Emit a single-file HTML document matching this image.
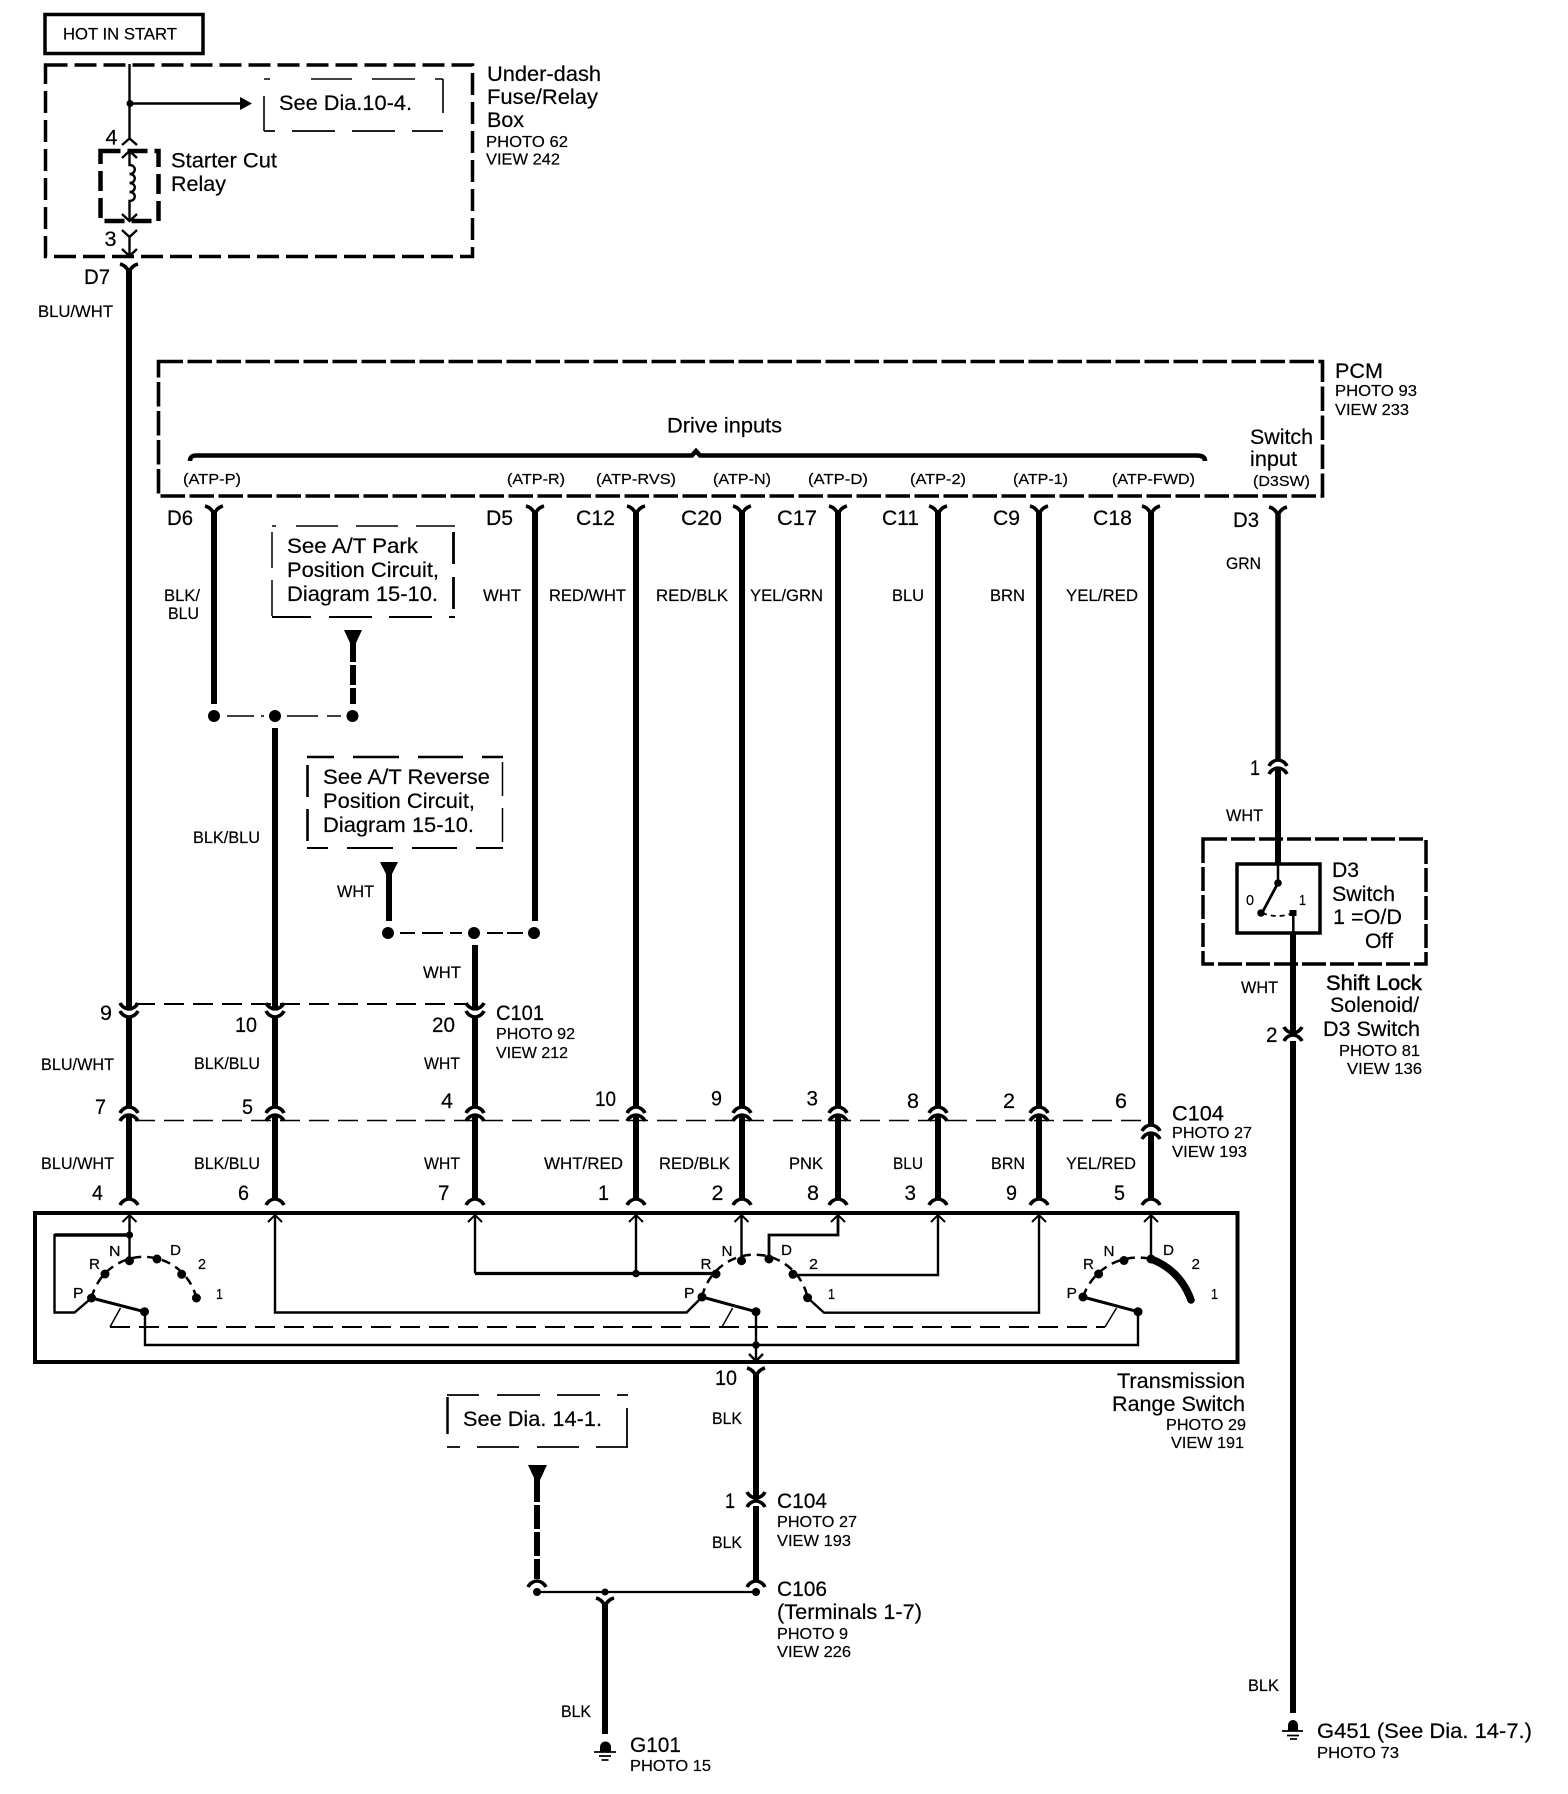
<!DOCTYPE html>
<html><head><meta charset="utf-8">
<style>
html,body{margin:0;padding:0;background:#fff;}
svg{display:block;}
text{font-family:"Liberation Sans",sans-serif;fill:#000;stroke:#000;stroke-width:.2;}
.b{font-size:21.5px;}
.c{font-size:17px;}
.p{font-size:16px;}
.s{font-size:15px;}
.w{stroke:#000;stroke-width:6;fill:none;}
.t{stroke:#000;stroke-width:2.4;fill:none;}
.k{stroke:#000;stroke-width:3.5;fill:none;}
</style></head><body>
<svg xmlns="http://www.w3.org/2000/svg" width="1568" height="1794" viewBox="0 0 1568 1794">
<defs>
<path id="yu" d="M-9,0 Q-3,1.5 0,8 Q3,1.5 9,0" fill="none" stroke="#000" stroke-width="3.6"/>
<path id="pu" d="M-9,0 C-7,4 -3,6 0,6 C3,6 7,4 9,0" fill="none" stroke="#000" stroke-width="3.6"/>
<path id="pd" d="M-9,0 C-7,-4 -3,-6 0,-6 C3,-6 7,-4 9,0" fill="none" stroke="#000" stroke-width="3.6"/>
<path id="au" d="M-7,8 L0,1 L7,8" fill="none" stroke="#000" stroke-width="2"/>
</defs>
<rect width="1568" height="1794" fill="#fff"/>

<!-- top boxes -->
<rect x="45" y="14.500" width="158" height="39" fill="none" stroke="#000" stroke-width="3.500"/>
<text x="63" y="39.500" class="c" textLength="114" lengthAdjust="spacingAndGlyphs">HOT IN START</text>
<rect x="45.500" y="65" width="427" height="191.500" fill="none" stroke="#000" stroke-width="3.500" stroke-dasharray="22,7"/>
<path class="t" d="M129.500,64 V140"/>
<circle cx="130" cy="103.500" r="3.500"/>
<path class="t" d="M130,103.500 H242"/>
<polygon points="240,97 252,103.500 240,110"/>
<path d="M264,79 H443" fill="none" stroke="#000" stroke-width="1.600" stroke-dasharray="6,41,41,20,43,20,8,0"/>
<path d="M264,131 H443" fill="none" stroke="#000" stroke-width="1.800" stroke-dasharray="11,17,43,17,43,17,31,0"/>
<path d="M264,96 V131 M443,79 V113" fill="none" stroke="#000" stroke-width="1.600"/>
<text x="279" y="110" class="b" textLength="133" lengthAdjust="spacingAndGlyphs">See Dia.10-4.</text>
<text x="105.500" y="144.500" class="b" textLength="12" lengthAdjust="spacingAndGlyphs">4</text>
<path class="t" d="M122,145 L129.500,138.500 L137,145"/>
<rect x="100.500" y="151" width="58" height="70" fill="none" stroke="#000" stroke-width="4.500" stroke-dasharray="20,7"/>
<path class="t" d="M122,158 L129.500,151 L137,158 M129.500,151 V165 c7,0 7,9 0,9 c7,0 7,9 0,9 c7,0 7,9 0,9 c7,0 7,9 0,9 V221 M122,214 L129.500,221 L137,214"/>
<text x="171" y="167.500" class="b" textLength="106" lengthAdjust="spacingAndGlyphs">Starter Cut</text>
<text x="171" y="191" class="b" textLength="55" lengthAdjust="spacingAndGlyphs">Relay</text>
<text x="104.500" y="246" class="b" textLength="12" lengthAdjust="spacingAndGlyphs">3</text>
<path class="t" d="M122,230 L129.500,237 L137,230 M129.500,237 V256 M122,249 L129.500,256 L137,249"/>
<text x="487" y="81" class="b" textLength="114" lengthAdjust="spacingAndGlyphs">Under-dash</text>
<text x="487" y="104" class="b" textLength="111" lengthAdjust="spacingAndGlyphs">Fuse/Relay</text>
<text x="487" y="127" class="b" textLength="37" lengthAdjust="spacingAndGlyphs">Box</text>
<text x="486" y="147" class="p" textLength="82" lengthAdjust="spacingAndGlyphs">PHOTO 62</text>
<text x="486" y="164.500" class="p" textLength="74" lengthAdjust="spacingAndGlyphs">VIEW 242</text>

<text x="84" y="284" class="b" textLength="26" lengthAdjust="spacingAndGlyphs">D7</text>
<text x="38" y="317" class="c" textLength="75" lengthAdjust="spacingAndGlyphs">BLU/WHT</text>

<!-- PCM -->
<rect x="158.500" y="361.500" width="1164" height="134.500" fill="none" stroke="#000" stroke-width="3.600" stroke-dasharray="24.500,4.500"/>
<text x="1335" y="378" class="b" textLength="48" lengthAdjust="spacingAndGlyphs">PCM</text>
<text x="1335" y="396" class="p" textLength="82" lengthAdjust="spacingAndGlyphs">PHOTO 93</text>
<text x="1335" y="415" class="p" textLength="74" lengthAdjust="spacingAndGlyphs">VIEW 233</text>
<text x="667" y="432.500" class="b" textLength="115" lengthAdjust="spacingAndGlyphs">Drive inputs</text>
<path d="M190,461 Q190,455.500 196,455.500 L692,455.500 L696,451 L700,455.500 L1197,455.500 Q1205,455.500 1205,461" fill="none" stroke="#000" stroke-width="4.500"/>
<g class="s">
<text x="183" y="484" textLength="58" lengthAdjust="spacingAndGlyphs">(ATP-P)</text>
<text x="507" y="484" textLength="58" lengthAdjust="spacingAndGlyphs">(ATP-R)</text>
<text x="596" y="484" textLength="80" lengthAdjust="spacingAndGlyphs">(ATP-RVS)</text>
<text x="713" y="484" textLength="58" lengthAdjust="spacingAndGlyphs">(ATP-N)</text>
<text x="808" y="484" textLength="60" lengthAdjust="spacingAndGlyphs">(ATP-D)</text>
<text x="910" y="484" textLength="56" lengthAdjust="spacingAndGlyphs">(ATP-2)</text>
<text x="1013" y="484" textLength="55" lengthAdjust="spacingAndGlyphs">(ATP-1)</text>
<text x="1112" y="484" textLength="83" lengthAdjust="spacingAndGlyphs">(ATP-FWD)</text>
<text x="1253" y="486" textLength="57" lengthAdjust="spacingAndGlyphs">(D3SW)</text>
</g>
<text x="1250" y="444" class="b" textLength="63" lengthAdjust="spacingAndGlyphs">Switch</text>
<text x="1250" y="466" class="b" textLength="47" lengthAdjust="spacingAndGlyphs">input</text>

<!-- connector labels row -->
<g class="b">
<text x="167" y="525" textLength="26" lengthAdjust="spacingAndGlyphs">D6</text>
<text x="486" y="525" textLength="27" lengthAdjust="spacingAndGlyphs">D5</text>
<text x="576" y="525" textLength="39" lengthAdjust="spacingAndGlyphs">C12</text>
<text x="681" y="525" textLength="41" lengthAdjust="spacingAndGlyphs">C20</text>
<text x="777" y="525" textLength="40" lengthAdjust="spacingAndGlyphs">C17</text>
<text x="882" y="525" textLength="37" lengthAdjust="spacingAndGlyphs">C11</text>
<text x="993" y="525" textLength="27" lengthAdjust="spacingAndGlyphs">C9</text>
<text x="1093" y="525" textLength="39" lengthAdjust="spacingAndGlyphs">C18</text>
<text x="1233" y="527" textLength="26" lengthAdjust="spacingAndGlyphs">D3</text>
</g>
<g class="c">
<text x="164" y="601" textLength="36" lengthAdjust="spacingAndGlyphs">BLK/</text>
<text x="168" y="619" textLength="31" lengthAdjust="spacingAndGlyphs">BLU</text>
<text x="483" y="601" textLength="38" lengthAdjust="spacingAndGlyphs">WHT</text>
<text x="549" y="601" textLength="77" lengthAdjust="spacingAndGlyphs">RED/WHT</text>
<text x="656" y="601" textLength="72" lengthAdjust="spacingAndGlyphs">RED/BLK</text>
<text x="750" y="601" textLength="73" lengthAdjust="spacingAndGlyphs">YEL/GRN</text>
<text x="892" y="601" textLength="32" lengthAdjust="spacingAndGlyphs">BLU</text>
<text x="990" y="601" textLength="35" lengthAdjust="spacingAndGlyphs">BRN</text>
<text x="1066" y="601" textLength="72" lengthAdjust="spacingAndGlyphs">YEL/RED</text>
<text x="1226" y="569" textLength="35" lengthAdjust="spacingAndGlyphs">GRN</text>
<text x="193" y="843" textLength="67" lengthAdjust="spacingAndGlyphs">BLK/BLU</text>
<text x="337" y="897" textLength="37" lengthAdjust="spacingAndGlyphs">WHT</text>
<text x="423" y="978" textLength="38" lengthAdjust="spacingAndGlyphs">WHT</text>
<text x="1226" y="821" textLength="37" lengthAdjust="spacingAndGlyphs">WHT</text>
<text x="1241" y="993" textLength="37" lengthAdjust="spacingAndGlyphs">WHT</text>
<text x="41" y="1070" textLength="73" lengthAdjust="spacingAndGlyphs">BLU/WHT</text>
<text x="194" y="1069" textLength="66" lengthAdjust="spacingAndGlyphs">BLK/BLU</text>
<text x="424" y="1069" textLength="36" lengthAdjust="spacingAndGlyphs">WHT</text>
<text x="41" y="1169" textLength="73" lengthAdjust="spacingAndGlyphs">BLU/WHT</text>
<text x="194" y="1169" textLength="66" lengthAdjust="spacingAndGlyphs">BLK/BLU</text>
<text x="424" y="1169" textLength="36" lengthAdjust="spacingAndGlyphs">WHT</text>
<text x="544" y="1169" textLength="79" lengthAdjust="spacingAndGlyphs">WHT/RED</text>
<text x="659" y="1169" textLength="71" lengthAdjust="spacingAndGlyphs">RED/BLK</text>
<text x="789" y="1169" textLength="34" lengthAdjust="spacingAndGlyphs">PNK</text>
<text x="893" y="1169" textLength="30" lengthAdjust="spacingAndGlyphs">BLU</text>
<text x="991" y="1169" textLength="34" lengthAdjust="spacingAndGlyphs">BRN</text>
<text x="1066" y="1169" textLength="70" lengthAdjust="spacingAndGlyphs">YEL/RED</text>
<text x="712" y="1424" textLength="30" lengthAdjust="spacingAndGlyphs">BLK</text>
<text x="712" y="1548" textLength="30" lengthAdjust="spacingAndGlyphs">BLK</text>
<text x="561" y="1717" textLength="30" lengthAdjust="spacingAndGlyphs">BLK</text>
<text x="1248" y="1691" textLength="31" lengthAdjust="spacingAndGlyphs">BLK</text>
</g>

<!-- thick wires -->
<path class="w" d="M129,270 V1008 M129,1017 V1107 M129,1115 V1200
M275,728 V1008 M275,1017 V1107 M275,1115 V1200
M475,945 V1008 M475,1017 V1107 M475,1115 V1200
M214,512 V704 M535,512 V921
M636,512 V1107 M636,1115 V1200
M742,512 V1107 M742,1115 V1200
M838,512 V1107 M838,1115 V1200
M938,512 V1107 M938,1115 V1200
M1039,512 V1107 M1039,1115 V1200
M1151,512 V1125 M1151,1133 V1200
M1278,768 V863 M1293,933 V1033 M1293,1041 V1713
M389,870 V921 M756,1375 V1498 M756,1506 V1580 M605,1605 V1734"/>
<path d="M1278,512 V760" fill="none" stroke="#000" stroke-width="5.500"/>
<path d="M353,642 V704" fill="none" stroke="#000" stroke-width="6" stroke-dasharray="20,3"/>
<path d="M537,1478 V1579" fill="none" stroke="#000" stroke-width="6" stroke-dasharray="24,3"/>
<polygon points="344,630 362,630 355.500,644 350.500,644"/>
<polygon points="380,862 398,862 391.500,875 386.500,875"/>
<polygon points="528,1465 547,1465 540,1480 535,1480"/>

<!-- top connector Ys -->
<use href="#yu" x="129" y="264"/><use href="#yu" x="214" y="506"/><use href="#yu" x="535" y="506"/><use href="#yu" x="636" y="506"/><use href="#yu" x="742" y="506"/><use href="#yu" x="838" y="506"/><use href="#yu" x="938" y="506"/><use href="#yu" x="1039" y="506"/><use href="#yu" x="1151" y="506"/><use href="#yu" x="1278" y="507"/>
<!-- C101 -->
<use href="#pu" x="129" y="1003"/><use href="#pu" x="129" y="1011"/><use href="#pu" x="275" y="1003"/><use href="#pu" x="275" y="1011"/><use href="#pu" x="475" y="1003"/><use href="#pu" x="475" y="1011"/>
<path d="M135,1004 H468" fill="none" stroke="#000" stroke-width="2" stroke-dasharray="20,9"/>
<!-- C104 -->
<use href="#pd" x="129" y="1113"/><use href="#pd" x="129" y="1121"/><use href="#pd" x="275" y="1113"/><use href="#pd" x="275" y="1121"/><use href="#pd" x="475" y="1113"/><use href="#pd" x="475" y="1121"/><use href="#pd" x="636" y="1113"/><use href="#pd" x="636" y="1121"/><use href="#pd" x="742" y="1113"/><use href="#pd" x="742" y="1121"/><use href="#pd" x="838" y="1113"/><use href="#pd" x="838" y="1121"/><use href="#pd" x="938" y="1113"/><use href="#pd" x="938" y="1121"/><use href="#pd" x="1039" y="1113"/><use href="#pd" x="1039" y="1121"/><use href="#pd" x="1151" y="1131"/><use href="#pd" x="1151" y="1139"/>
<path d="M135,1120.500 H1146" fill="none" stroke="#000" stroke-width="1.500" stroke-dasharray="20,9"/>
<!-- bottom row -->
<use href="#pd" x="129" y="1205"/><use href="#pd" x="275" y="1205"/><use href="#pd" x="475" y="1205"/><use href="#pd" x="636" y="1205"/><use href="#pd" x="742" y="1205"/><use href="#pd" x="838" y="1205"/><use href="#pd" x="938" y="1205"/><use href="#pd" x="1039" y="1205"/><use href="#pd" x="1151" y="1205"/>
<!-- other connectors -->
<use href="#pd" x="1278" y="766"/><use href="#pd" x="1278" y="774"/>
<use href="#pu" x="1293" y="1027"/><use href="#pd" x="1293" y="1041"/>
<use href="#yu" x="756" y="1368"/>
<use href="#pu" x="756" y="1492"/><use href="#pd" x="756" y="1507"/>
<use href="#pd" x="537" y="1587"/><use href="#pd" x="756" y="1587"/><use href="#yu" x="605" y="1598"/>

<!-- numbers -->
<g class="b">
<text x="100" y="1020" textLength="12" lengthAdjust="spacingAndGlyphs">9</text>
<text x="235" y="1032" textLength="22" lengthAdjust="spacingAndGlyphs">10</text>
<text x="432" y="1032" textLength="23" lengthAdjust="spacingAndGlyphs">20</text>
<text x="496" y="1020" textLength="48" lengthAdjust="spacingAndGlyphs">C101</text>
<text x="95" y="1114" textLength="11" lengthAdjust="spacingAndGlyphs">7</text>
<text x="242" y="1114" textLength="11" lengthAdjust="spacingAndGlyphs">5</text>
<text x="441" y="1108" textLength="12" lengthAdjust="spacingAndGlyphs">4</text>
<text x="595" y="1106" textLength="21" lengthAdjust="spacingAndGlyphs">10</text>
<text x="711" y="1105.500" textLength="11" lengthAdjust="spacingAndGlyphs">9</text>
<text x="806.500" y="1105.500" textLength="11.500" lengthAdjust="spacingAndGlyphs">3</text>
<text x="907" y="1108" textLength="12" lengthAdjust="spacingAndGlyphs">8</text>
<text x="1003" y="1108" textLength="12" lengthAdjust="spacingAndGlyphs">2</text>
<text x="1115" y="1108" textLength="12" lengthAdjust="spacingAndGlyphs">6</text>
<text x="1172" y="1120.500" textLength="52" lengthAdjust="spacingAndGlyphs">C104</text>
<text x="92" y="1200" textLength="11" lengthAdjust="spacingAndGlyphs">4</text>
<text x="238" y="1200" textLength="11" lengthAdjust="spacingAndGlyphs">6</text>
<text x="438" y="1200" textLength="11.500" lengthAdjust="spacingAndGlyphs">7</text>
<text x="598" y="1200" textLength="11" lengthAdjust="spacingAndGlyphs">1</text>
<text x="711.500" y="1200" textLength="12" lengthAdjust="spacingAndGlyphs">2</text>
<text x="807" y="1200" textLength="12" lengthAdjust="spacingAndGlyphs">8</text>
<text x="904.500" y="1200" textLength="11.500" lengthAdjust="spacingAndGlyphs">3</text>
<text x="1006" y="1200" textLength="11" lengthAdjust="spacingAndGlyphs">9</text>
<text x="1114" y="1200" textLength="11" lengthAdjust="spacingAndGlyphs">5</text>
<text x="715" y="1385" textLength="22" lengthAdjust="spacingAndGlyphs">10</text>
<text x="725" y="1508" textLength="10" lengthAdjust="spacingAndGlyphs">1</text>
<text x="1250" y="775" textLength="10" lengthAdjust="spacingAndGlyphs">1</text>
<text x="1266" y="1042" textLength="11.500" lengthAdjust="spacingAndGlyphs">2</text>
</g>
<g class="p">
<text x="496" y="1039" textLength="79" lengthAdjust="spacingAndGlyphs">PHOTO 92</text>
<text x="496" y="1058" textLength="72" lengthAdjust="spacingAndGlyphs">VIEW 212</text>
<text x="1172" y="1138" textLength="80" lengthAdjust="spacingAndGlyphs">PHOTO 27</text>
<text x="1172" y="1157" textLength="75" lengthAdjust="spacingAndGlyphs">VIEW 193</text>
</g>

<!-- See A/T Park -->
<path d="M272,526 H455" fill="none" stroke="#000" stroke-width="1.500" stroke-dasharray="4,20,42,18,42,18,40,0"/>
<path d="M272,532 V617" fill="none" stroke="#000" stroke-width="1.500" stroke-dasharray="36,12"/>
<path d="M453.500,532 V610" fill="none" stroke="#000" stroke-width="2.800" stroke-dasharray="32,13"/>
<path d="M272,617 H455" fill="none" stroke="#000" stroke-width="2" stroke-dasharray="39,18,43,17,43,17,6,0"/>
<g class="b">
<text x="287" y="553" textLength="131" lengthAdjust="spacingAndGlyphs">See A/T Park</text>
<text x="287" y="577" textLength="152" lengthAdjust="spacingAndGlyphs">Position Circuit,</text>
<text x="287" y="601" textLength="151" lengthAdjust="spacingAndGlyphs">Diagram 15-10.</text>
</g>
<!-- dots 1 -->
<circle cx="214" cy="716" r="6"/><circle cx="275" cy="716" r="6"/><circle cx="352.500" cy="716" r="6"/>
<path d="M227,716 H254 M261,716 H264 M287,716 H318 M327,716 H341" fill="none" stroke="#000" stroke-width="1.600"/>

<!-- See A/T Reverse -->
<path d="M307,757 H503" fill="none" stroke="#000" stroke-width="2.600" stroke-dasharray="27,19,46,19,45,19,21,0"/>
<path d="M307.500,765 V848" fill="none" stroke="#000" stroke-width="2.600" stroke-dasharray="32,12"/>
<path d="M502.500,762 V848" fill="none" stroke="#000" stroke-width="1.500" stroke-dasharray="34,12"/>
<path d="M307,848 H503" fill="none" stroke="#000" stroke-width="2" stroke-dasharray="21,19,46,19,45,19,27,0"/>
<g class="b">
<text x="323" y="784" textLength="167" lengthAdjust="spacingAndGlyphs">See A/T Reverse</text>
<text x="323" y="808" textLength="152" lengthAdjust="spacingAndGlyphs">Position Circuit,</text>
<text x="323" y="832" textLength="151" lengthAdjust="spacingAndGlyphs">Diagram 15-10.</text>
</g>
<circle cx="388" cy="933" r="6"/><circle cx="474" cy="933" r="6"/><circle cx="534" cy="933" r="6"/>
<path d="M400,933 H415 M422,933 H443 M450,933 H462 M487,933 H503 M507,933 H523" fill="none" stroke="#000" stroke-width="2"/>

<!-- D3 switch -->
<rect x="1203" y="839" width="223" height="125" fill="none" stroke="#000" stroke-width="3.500" stroke-dasharray="24,4"/>
<rect x="1237" y="864" width="83" height="69" fill="#fff" stroke="#000" stroke-width="3.500"/>
<path d="M1278,863 V883" fill="none" stroke="#000" stroke-width="2.500"/>
<circle cx="1278" cy="883" r="3.800"/><circle cx="1261" cy="913" r="3.800"/>
<path d="M1278,883 L1262,913" fill="none" stroke="#000" stroke-width="2.800"/>
<path d="M1262,913 Q1278,919 1293,913" fill="none" stroke="#000" stroke-width="1.800" stroke-dasharray="5,4"/>
<rect x="1289.500" y="910" width="7" height="6"/>
<path d="M1293.300,913 V934" fill="none" stroke="#000" stroke-width="2.500"/>
<text x="1246" y="905" class="s" textLength="8" lengthAdjust="spacingAndGlyphs">0</text>
<text x="1299" y="905" class="s" textLength="7" lengthAdjust="spacingAndGlyphs">1</text>
<g class="b">
<text x="1332" y="877" textLength="27" lengthAdjust="spacingAndGlyphs">D3</text>
<text x="1332" y="901" textLength="63" lengthAdjust="spacingAndGlyphs">Switch</text>
<text x="1333" y="924" textLength="69" lengthAdjust="spacingAndGlyphs">1 =O/D</text>
<text x="1365" y="948" textLength="28" lengthAdjust="spacingAndGlyphs">Off</text>
<text x="1326" y="990" textLength="96" lengthAdjust="spacingAndGlyphs" style="stroke-width:.5">Shift Lock</text>
<text x="1330" y="1012" textLength="89" lengthAdjust="spacingAndGlyphs">Solenoid/</text>
<text x="1323" y="1036" textLength="97" lengthAdjust="spacingAndGlyphs">D3 Switch</text>
</g>
<text x="1339" y="1056" class="p" textLength="81" lengthAdjust="spacingAndGlyphs">PHOTO 81</text>
<text x="1347" y="1074" class="p" textLength="75" lengthAdjust="spacingAndGlyphs">VIEW 136</text>

<!-- Transmission range switch -->
<rect x="35" y="1213" width="1202.500" height="149" fill="none" stroke="#000" stroke-width="4"/>
<!-- arrows -->
<use href="#au" x="129.500" y="1214"/><use href="#au" x="275" y="1214"/><use href="#au" x="475" y="1214"/><use href="#au" x="636" y="1214"/><use href="#au" x="741.500" y="1214"/><use href="#au" x="838" y="1214"/><use href="#au" x="938" y="1214"/><use href="#au" x="1039" y="1214"/><use href="#au" x="1151" y="1214"/>
<path class="t" d="M749,1354 L756,1361 L763,1354"/>
<!-- switch 1 -->
<path class="t" d="M129.500,1214 V1260"/>
<circle cx="129.500" cy="1235" r="3.600"/>
<path d="M129.500,1235 H54.500" fill="none" stroke="#000" stroke-width="3.500"/>
<path class="t" d="M54.500,1234 V1312.500 H74.500 L91.500,1298"/>
<path d="M91.500,1298 A54,54 0 0 1 196.400,1298" fill="none" stroke="#000" stroke-width="2.500" stroke-dasharray="9,6"/>
<circle cx="91.500" cy="1298" r="4.500"/><circle cx="105" cy="1274" r="4.500"/><circle cx="129.500" cy="1260.700" r="4.500"/><circle cx="157" cy="1259" r="4.500"/><circle cx="181.700" cy="1274.300" r="4.500"/><circle cx="196.400" cy="1298" r="4.500"/>
<path d="M91.500,1298 L144.500,1311.700" fill="none" stroke="#000" stroke-width="3"/>
<circle cx="144.500" cy="1311.700" r="4.500"/>
<path class="t" d="M145,1311 V1345 H1138 V1311"/>
<!-- switch 2 -->
<path class="t" d="M475,1214 V1273.500 M636,1214 V1273.500 M741.500,1214 V1260 M275,1214 V1312.500 H686.600 L702,1297"/>
<path d="M475,1273.500 H716" fill="none" stroke="#000" stroke-width="3.200"/>
<circle cx="636" cy="1273.500" r="3.800"/>
<path d="M769,1259 V1235 H838 V1214" fill="none" stroke="#000" stroke-width="2.800"/>
<path class="t" d="M793,1275 H938 V1214 M807.600,1297.700 L824,1312.700 H1039 V1214"/>
<path d="M702,1297 A54,54 0 0 1 807.600,1297.700" fill="none" stroke="#000" stroke-width="2.500" stroke-dasharray="9,6"/>
<circle cx="702" cy="1297" r="4.500"/><circle cx="716" cy="1274" r="4.500"/><circle cx="741.500" cy="1260.700" r="4.500"/><circle cx="769" cy="1259" r="4.500"/><circle cx="793" cy="1274.300" r="4.500"/><circle cx="807.600" cy="1297.700" r="4.500"/>
<path d="M702,1297 L756,1311.700" fill="none" stroke="#000" stroke-width="3"/>
<circle cx="756" cy="1311.700" r="4.500"/>
<path class="t" d="M756,1311 V1361"/><circle cx="756" cy="1345" r="3.800"/>
<!-- switch 3 -->
<path class="t" d="M1151,1214 V1259"/>
<path d="M1083,1297 A58,58 0 0 1 1151,1259" fill="none" stroke="#000" stroke-width="2.500" stroke-dasharray="9,6"/>
<path d="M1151,1259 Q1180,1270 1191,1300" fill="none" stroke="#000" stroke-width="7.500" stroke-linecap="round"/>
<circle cx="1083" cy="1297" r="4.500"/><circle cx="1098.600" cy="1274" r="4.500"/><circle cx="1124" cy="1260.500" r="4.500"/><circle cx="1151" cy="1259" r="4.500"/>
<path d="M1083,1297 L1138,1311.700" fill="none" stroke="#000" stroke-width="3"/>
<circle cx="1138" cy="1311.700" r="4.500"/>
<!-- mech link -->
<path d="M120.500,1308 L110,1327 M732.600,1308 L722,1327 M1116.500,1308 L1105,1327" fill="none" stroke="#000" stroke-width="1.500"/>
<path d="M110,1327 H1105" fill="none" stroke="#000" stroke-width="2" stroke-dasharray="20,9"/>
<!-- pos labels -->
<g class="s">
<text x="109" y="1256" textLength="11.500" lengthAdjust="spacingAndGlyphs">N</text>
<text x="170" y="1255" textLength="11" lengthAdjust="spacingAndGlyphs">D</text>
<text x="89" y="1269" textLength="11" lengthAdjust="spacingAndGlyphs">R</text>
<text x="73" y="1298" textLength="10.500" lengthAdjust="spacingAndGlyphs">P</text>
<text x="198" y="1269" textLength="8" lengthAdjust="spacingAndGlyphs">2</text>
<text x="216" y="1299" textLength="7" lengthAdjust="spacingAndGlyphs">1</text>
<text x="721.500" y="1256" textLength="11" lengthAdjust="spacingAndGlyphs">N</text>
<text x="781" y="1255" textLength="11" lengthAdjust="spacingAndGlyphs">D</text>
<text x="700.500" y="1269" textLength="11" lengthAdjust="spacingAndGlyphs">R</text>
<text x="684" y="1298" textLength="10.500" lengthAdjust="spacingAndGlyphs">P</text>
<text x="809" y="1269" textLength="9" lengthAdjust="spacingAndGlyphs">2</text>
<text x="828" y="1299" textLength="7" lengthAdjust="spacingAndGlyphs">1</text>
<text x="1103.500" y="1256" textLength="11" lengthAdjust="spacingAndGlyphs">N</text>
<text x="1163" y="1255" textLength="11" lengthAdjust="spacingAndGlyphs">D</text>
<text x="1083" y="1269" textLength="11" lengthAdjust="spacingAndGlyphs">R</text>
<text x="1066.500" y="1298" textLength="10.500" lengthAdjust="spacingAndGlyphs">P</text>
<text x="1191.500" y="1269" textLength="8.500" lengthAdjust="spacingAndGlyphs">2</text>
<text x="1211" y="1299" textLength="7" lengthAdjust="spacingAndGlyphs">1</text>
</g>
<text x="1117" y="1388" class="b" textLength="128" lengthAdjust="spacingAndGlyphs">Transmission</text>
<text x="1112" y="1411" class="b" textLength="133" lengthAdjust="spacingAndGlyphs">Range Switch</text>
<text x="1166" y="1430" class="p" textLength="80" lengthAdjust="spacingAndGlyphs">PHOTO 29</text>
<text x="1171" y="1448" class="p" textLength="73" lengthAdjust="spacingAndGlyphs">VIEW 191</text>

<!-- See Dia 14-1 -->
<path d="M447,1395 H628" fill="none" stroke="#000" stroke-width="1.800" stroke-dasharray="32,18,43,17,43,17,11,0"/>
<path d="M447.500,1397 V1434" fill="none" stroke="#000" stroke-width="2.500"/>
<path d="M627,1408 V1447" fill="none" stroke="#000" stroke-width="1.800"/>
<path d="M447,1447 H628" fill="none" stroke="#000" stroke-width="1.800" stroke-dasharray="13,17,42,18,42,17,32,0"/>
<text x="463" y="1426" class="b" textLength="139" lengthAdjust="spacingAndGlyphs">See Dia. 14-1.</text>

<!-- bottom net -->
<circle cx="537" cy="1592" r="4"/><circle cx="605" cy="1592" r="3.500"/><circle cx="756" cy="1592" r="4"/>
<path d="M537,1592 H756" fill="none" stroke="#000" stroke-width="2.200"/>
<!-- grounds -->
<path d="M600,1752 V1747 A5.500,5.500 0 0 1 611,1747 V1752 Z"/>
<path d="M594,1752 H616 M599,1756 H611 M601.500,1760 H608.500" fill="none" stroke="#000" stroke-width="1.800"/>
<path d="M1288,1731 V1725 A5,5 0 0 1 1298,1725 V1731 Z"/>
<path d="M1282,1731 H1303 M1287,1735.500 H1299 M1290,1739 H1297" fill="none" stroke="#000" stroke-width="1.800"/>

<g class="b">
<text x="777" y="1508" textLength="50" lengthAdjust="spacingAndGlyphs">C104</text>
<text x="777" y="1596" textLength="50" lengthAdjust="spacingAndGlyphs">C106</text>
<text x="777" y="1619" textLength="145" lengthAdjust="spacingAndGlyphs">(Terminals 1-7)</text>
<text x="630" y="1752" textLength="51" lengthAdjust="spacingAndGlyphs">G101</text>
<text x="1317" y="1738" textLength="215" lengthAdjust="spacingAndGlyphs">G451 (See Dia. 14-7.)</text>
</g>
<g class="p">
<text x="777" y="1527" textLength="80" lengthAdjust="spacingAndGlyphs">PHOTO 27</text>
<text x="777" y="1546" textLength="74" lengthAdjust="spacingAndGlyphs">VIEW 193</text>
<text x="777" y="1639" textLength="71" lengthAdjust="spacingAndGlyphs">PHOTO 9</text>
<text x="777" y="1657" textLength="74" lengthAdjust="spacingAndGlyphs">VIEW 226</text>
<text x="630" y="1771" textLength="81" lengthAdjust="spacingAndGlyphs">PHOTO 15</text>
<text x="1317" y="1758" textLength="82" lengthAdjust="spacingAndGlyphs">PHOTO 73</text>
</g>
</svg>
</body></html>
